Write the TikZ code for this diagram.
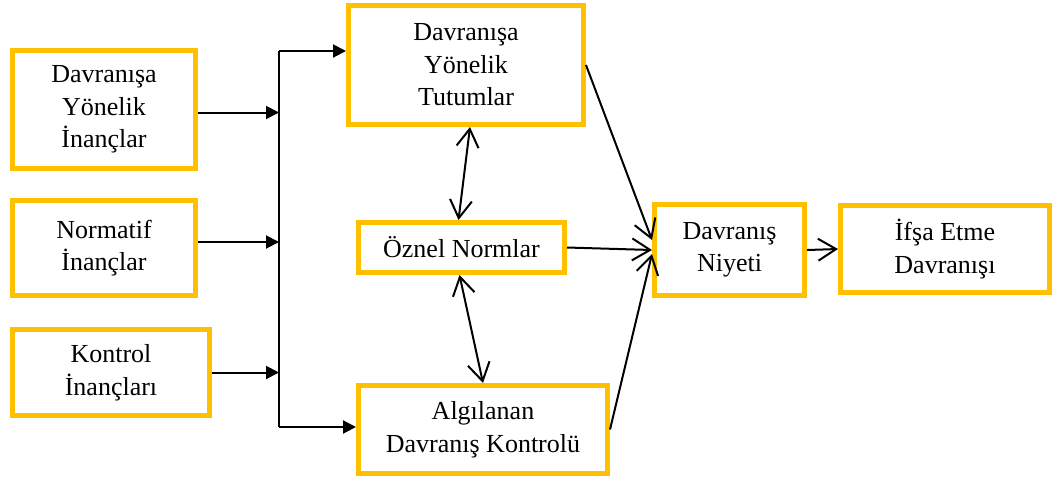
\documentclass[tikz,border=0pt]{standalone}
\usepackage{fontspec}
\setmainfont{Liberation Serif}
\usetikzlibrary{arrows.meta}
\definecolor{kutu}{HTML}{FFC000}
\tikzset{
  kutu/.style={rectangle, draw=kutu, line width=2.5pt, align=center, font=\fontsize{13}{16.25}\selectfont, inner sep=0pt},
  dolu/.style={-{Triangle[length=6.5pt,width=6.5pt]}, line width=1pt},
  acik/.style={-{Straight Barb[length=9pt,width=11pt]}, line width=1pt},
  cift/.style={{Straight Barb[length=9pt,width=11pt]}-{Straight Barb[length=9pt,width=11pt]}, line width=1pt}
}
\begin{document}
\begin{tikzpicture}[x=0.5pt, y=-0.5pt]
    \useasboundingbox (0,0) rectangle (1054,478);
    \node[kutu, minimum width=91.5pt, minimum height=59pt] (dyi) at (104,109.5) {Davranışa\\Yönelik\\İnançlar};
    \node[kutu, minimum width=91.5pt, minimum height=47.5pt] (ni) at (104,248) {Normatif\\İnançlar};
    \node[kutu, minimum width=98.5pt, minimum height=43pt] (ki) at (111,372.5) {Kontrol\\İnançları};
    \node[kutu, minimum width=117.5pt, minimum height=59.5pt] (dyt) at (466,65) {Davranışa\\Yönelik\\Tutumlar};
    \node[kutu, minimum width=103pt, minimum height=25pt] (on) at (461.5,247.5) {Öznel Normlar};
    \node[kutu, minimum width=124.5pt, minimum height=44pt] (adk) at (483,429.5) {Algılanan\\Davranış Kontrolü};
    \node[kutu, minimum width=75pt, minimum height=45.5pt] (dn) at (729.5,250) {Davranış\\Niyeti};
    \node[kutu, minimum width=104.5pt, minimum height=43.5pt] (ied) at (945,249) {İfşa Etme\\Davranışı};
    % toplama hatti
    \coordinate (hust) at (279,51);
    \coordinate (halt) at (279,427);
    \draw[line width=1pt] (hust) -- (halt);
    \draw[dolu] ([yshift=-1.5pt]dyi.east) -- ([yshift=-1.5pt]dyi.east -| hust);
    \draw[dolu] ([yshift=3pt]ni.east) -- ([yshift=3pt]ni.east -| hust);
    \draw[dolu] (ki.east) -- (ki.east -| hust);
    \draw[dolu] (hust) -- (hust -| dyt.west);
    \draw[dolu] (halt) -- (halt -| adk.west);
    % sag taraf
    \draw[cift] ([xshift=2pt]dyt.south) -- ([xshift=-1.5pt]on.north);
    \draw[cift] ([xshift=-1pt]on.south) -- (adk.north);
    \draw[acik] (dyt.east) -- ([yshift=5pt]dn.west);
    \draw[acik] (on.east) -- (dn.west);
    \draw[acik] (adk.east) -- ([yshift=-2pt]dn.west);
    \draw[acik] (dn.east) -- (ied.west);
\end{tikzpicture}
\end{document}
